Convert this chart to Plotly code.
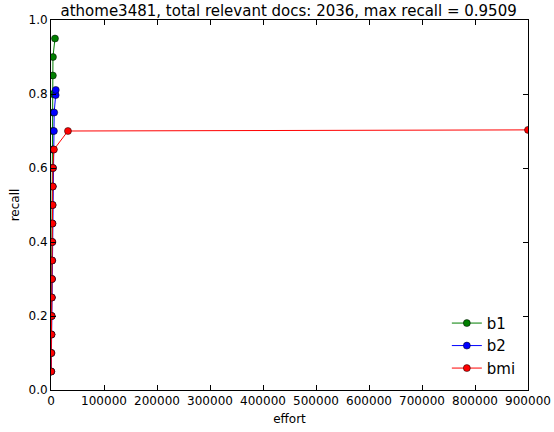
import plotly.graph_objects as go

# data
b1_effort = [300, 500, 700, 900, 1100, 1300, 1500, 1700, 1900, 2100, 2300, 2500, 2700, 2900, 3100, 3300, 3500, 3700, 7500]
b1_recall = [0.05, 0.10, 0.15, 0.20, 0.25, 0.30, 0.35, 0.40, 0.45, 0.50, 0.55, 0.60, 0.65, 0.70, 0.75, 0.80, 0.85, 0.90, 0.95]

b2_effort = [400, 700, 1000, 1300, 1600, 1900, 2200, 2500, 2800, 3100, 3400, 3800, 4300, 5500, 6000, 8800, 9000]
b2_recall = [0.05, 0.10, 0.15, 0.20, 0.25, 0.30, 0.35, 0.40, 0.45, 0.50, 0.55, 0.60, 0.65, 0.70, 0.75, 0.797, 0.811]

bmi_effort = [300, 600, 900, 1200, 1500, 1800, 2100, 2400, 2700, 3000, 3300, 3600, 5500, 32000, 900000]
bmi_recall = [0.05, 0.10, 0.15, 0.20, 0.25, 0.30, 0.35, 0.40, 0.45, 0.50, 0.55, 0.60, 0.65, 0.70, 0.703]

x_ticks = [0, 100000, 200000, 300000, 400000, 500000, 600000, 700000, 800000, 900000]
y_ticks = [0.0, 0.2, 0.4, 0.6, 0.8, 1.0]

fig = go.Figure()
for name, xs, ys, col in [("b1", b1_effort, b1_recall, "#007f00"),
                          ("b2", b2_effort, b2_recall, "#0000ff"),
                          ("bmi", bmi_effort, bmi_recall, "#ff0000")]:
    fig.add_trace(go.Scatter(x=xs, y=ys, name=name, mode="lines+markers",
                             line=dict(color=col, width=1),
                             marker=dict(color=col, size=7, line=dict(color="black", width=0.5))))

axis_common = dict(showgrid=False, zeroline=False, showline=True, linecolor="black", linewidth=1,
                   mirror="ticks", ticks="inside", ticklen=5, tickcolor="black", automargin=False,
                   tickfont=dict(family="DejaVu Sans", size=12, color="black"))
fig.update_xaxes(range=[0, 900000], tickvals=x_ticks, ticktext=[str(v) for v in x_ticks],
                 title=dict(text="effort", font=dict(family="DejaVu Sans", size=12, color="black"), standoff=7),
                 **axis_common)
fig.update_yaxes(range=[0, 1], tickvals=y_ticks, ticktext=[f"{v:.1f}" for v in y_ticks],
                 title=dict(text="recall", font=dict(family="DejaVu Sans", size=12, color="black"), standoff=6),
                 **axis_common)
fig.update_layout(
    width=554, height=432,
    margin=dict(l=51, r=26, t=20, b=42),
    paper_bgcolor="white", plot_bgcolor="white",
    title=dict(text="athome3481, total relevant docs: 2036, max recall = 0.9509",
               font=dict(family="DejaVu Sans", size=15, color="black"),
               x=0.521, xanchor="center", y=0.975, yanchor="middle", automargin=False),
    legend=dict(x=0.985, xanchor="right", y=0.014, yanchor="bottom", bgcolor="rgba(0,0,0,0)",
                font=dict(family="DejaVu Sans", size=15, color="black"), tracegroupgap=2),
    font=dict(family="DejaVu Sans"),
)
fig.write_html("out.html", config={"displayModeBar": False},
               post_script="document.body.style.margin='0';")
